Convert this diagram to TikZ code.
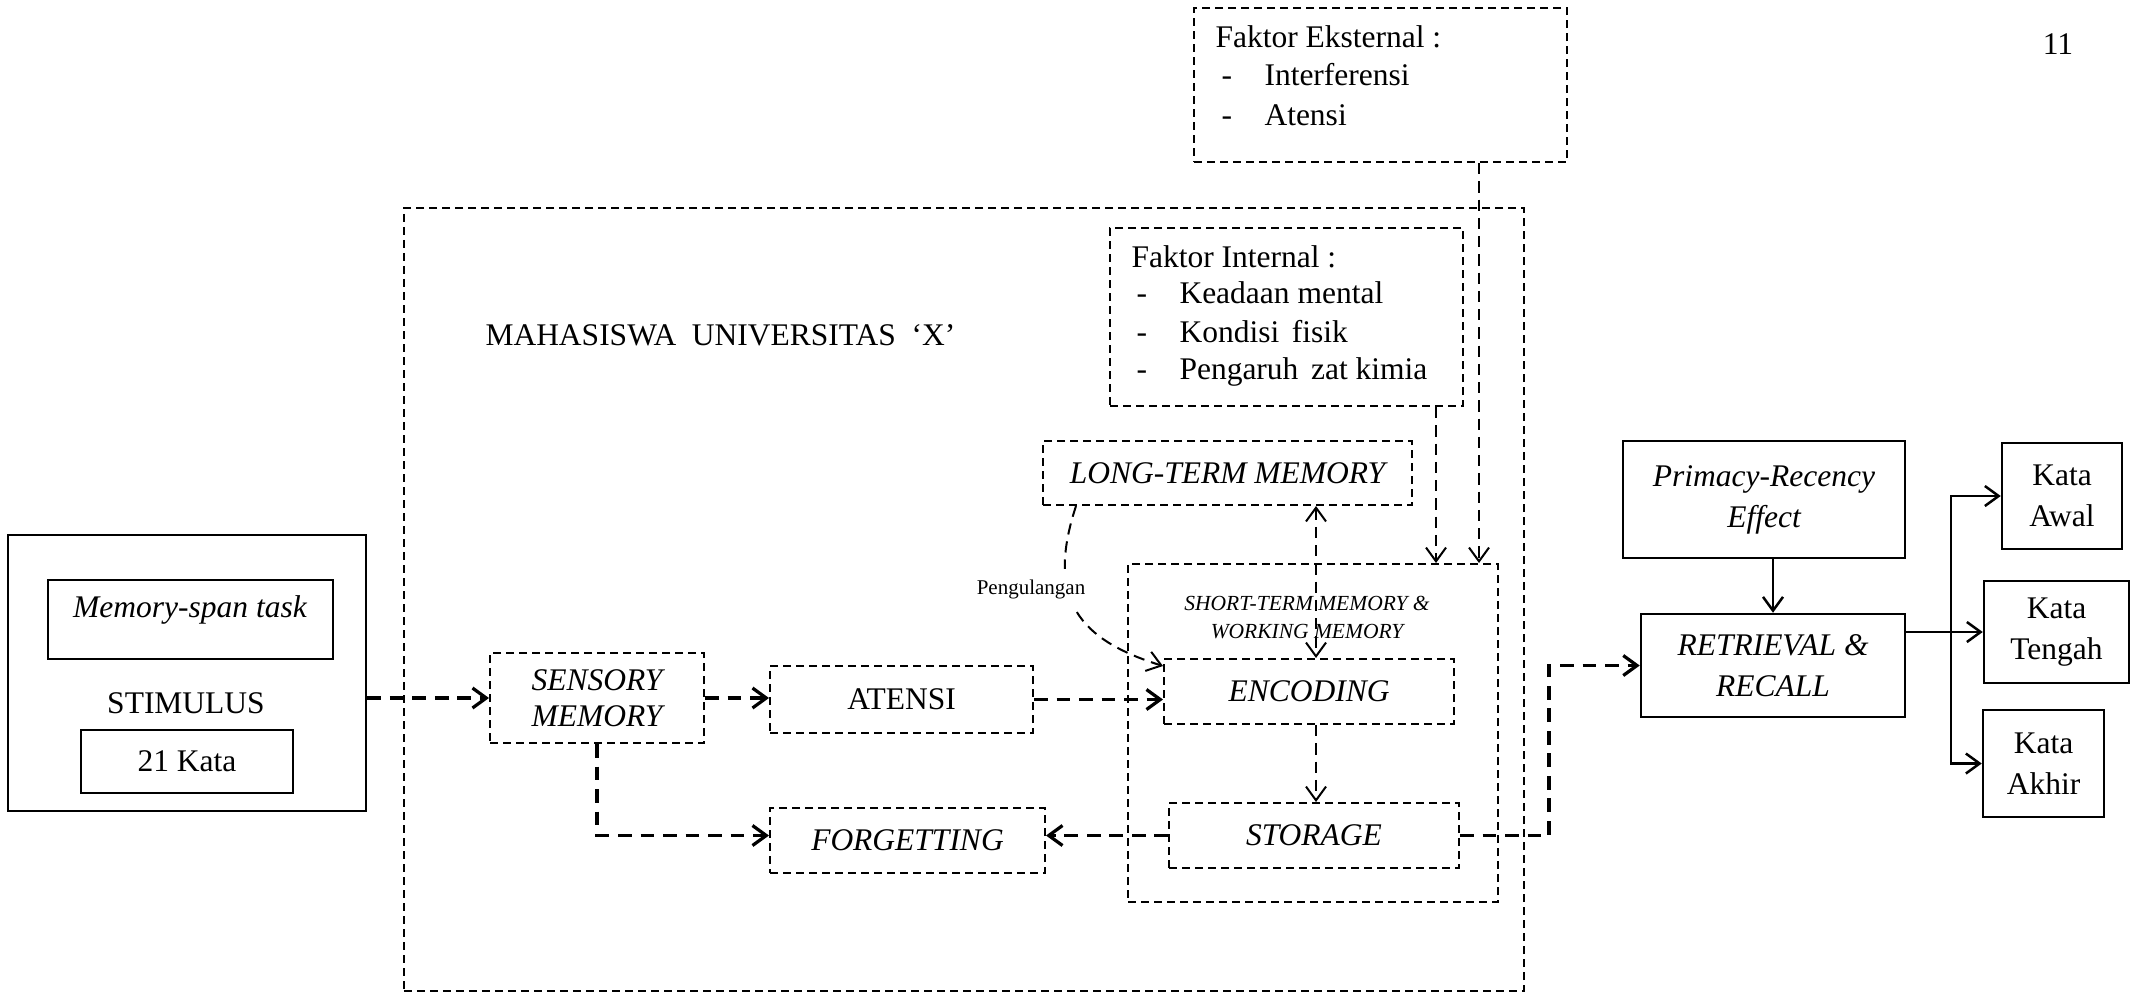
\documentclass[tikz,border=0pt]{standalone}
\usepackage{fontspec}
\setmainfont{Liberation Serif}
\usetikzlibrary{arrows.meta,calc}
\begin{document}
\begin{tikzpicture}[x=0.4pt,y=-0.4pt,
  every node/.style={font=\fontsize{12.6}{16.4}\selectfont},
  dbox/.style={draw,line width=0.8pt,dash pattern=on 3.2pt off 2pt,inner sep=0pt,align=center},
  sbox/.style={draw,line width=1pt,inner sep=0pt,align=center},
  thinflow/.style={line width=0.8pt,dash pattern=on 4.5pt off 2.8pt},
  thickflow/.style={line width=1.3pt,dash pattern=on 5.5pt off 3.5pt},
  solidflow/.style={line width=1pt},
  arrowv/.style={-{Straight Barb[length=5.5pt,width=8pt]}},
  arrowvv/.style={{Straight Barb[length=5.5pt,width=8pt]}-{Straight Barb[length=5.5pt,width=8pt]}},
  txt/.style={inner sep=0pt,anchor=west,text height=9pt,text depth=3pt,yshift=-1pt},
  itl/.style={font=\fontsize{12.6}{16.4}\selectfont\itshape}]
\useasboundingbox (0,0) rectangle (2134,995);

% page number
\node (pnum) at (2058,44) {11};

% big frame
\node[dbox,minimum width=448pt,minimum height=313.2pt] (big) at (964,599.5) {};
\node[txt] (maha) at (485,335) {MAHASISWA\hspace{0.5em}UNIVERSITAS\hspace{0.5em}‘X’};

% Faktor Eksternal
\node[dbox,minimum width=149.2pt,minimum height=61.6pt] (ext) at (1380.5,85) {};
\node[txt] (ext0) at (1215,37.5) {Faktor Eksternal :};
\node[txt] (ext1d) at (1221,75) {-};
\node[txt] (ext1) at (1264,75) {Interferensi};
\node[txt] (ext2d) at (1221,115) {-};
\node[txt] (ext2) at (1264,115) {Atensi};

% Faktor Internal
\node[dbox,minimum width=141.2pt,minimum height=71.2pt] (int) at (1286.5,317) {};
\node[txt] (int0) at (1131,257) {Faktor Internal :};
\node[txt] (int1d) at (1136,293) {-};
\node[txt] (int1) at (1179,293) {Keadaan mental};
\node[txt] (int2d) at (1136,332) {-};
\node[txt] (int2) at (1179,332) {Kondisi\hspace{0.4em}fisik};
\node[txt] (int3d) at (1136,369) {-};
\node[txt] (int3) at (1179,369) {Pengaruh\hspace{0.4em}zat kimia};

% memory boxes
\node[dbox,itl,minimum width=147.6pt,minimum height=25.6pt] (ltm) at (1227.5,473) {LONG-TERM MEMORY};
\node[dbox,minimum width=148pt,minimum height=135.2pt] (stm) at (1313,733) {};
\node[font=\fontsize{8.6}{11.2}\selectfont\itshape,align=center,inner sep=0pt] (stmt) at (1307,617) {SHORT-TERM MEMORY \&\\WORKING MEMORY};
\node[dbox,itl,minimum width=116pt,minimum height=26pt] (enc) at (1309,691.5) {ENCODING};
\node[dbox,itl,minimum width=116pt,minimum height=26pt] (sto) at (1314,835.5) {STORAGE};
\node[dbox,font=\fontsize{12.6}{14.4}\selectfont\itshape,minimum width=85.6pt,minimum height=36pt] (sens) at (597,698) {SENSORY\\MEMORY};
\node[dbox,minimum width=105.2pt,minimum height=26.8pt] (aten) at (901.5,699.5) {ATENSI};
\node[dbox,itl,minimum width=110pt,minimum height=26pt] (forg) at (907.5,840.5) {FORGETTING};

% stimulus
\node[sbox,minimum width=143.2pt,minimum height=110.4pt] (stim) at (187,673) {};
\node[sbox,minimum width=114pt,minimum height=31.6pt] (mst) at (190.5,619.5) {};
\node[itl] (mstt) at (190,610) {Memory-span task};
\node (stimt) at (186,703) {STIMULUS};
\node[sbox,minimum width=84.8pt,minimum height=25.2pt] (k21) at (187,761.5) {21 Kata};

% right side
\node[sbox,itl,minimum width=112.8pt,minimum height=46.8pt] (pri) at (1764,499.5) {Primacy-Recency\\Effect};
\node[sbox,itl,minimum width=105.6pt,minimum height=41.2pt] (ret) at (1773,665.5) {RETRIEVAL \&\\RECALL};
\node[sbox,minimum width=48pt,minimum height=42.4pt] (kawal) at (2062,496) {Kata\\Awal};
\node[sbox,minimum width=58pt,minimum height=40.8pt] (kteng) at (2056.5,632) {Kata\\Tengah};
\node[sbox,minimum width=48.4pt,minimum height=42.8pt] (kakhir) at (2043.5,763.5) {Kata\\Akhir};

% helper coordinates
\coordinate (vx) at (1316,0);
\coordinate (ix) at (1436,0);
\coordinate (ex) at (1479,0);
\coordinate (tx) at (1549,0);
\coordinate (bx) at (1951,0);

% flow connectors
\draw[thickflow,arrowv] (stim.east |- sens.west) -- (sens.west);
\draw[thickflow,arrowv] (sens.east) -- (sens.east -| aten.west);
\draw[thickflow,arrowv] (aten.east) -- (aten.east -| enc.west);
\draw[thickflow,arrowv] (sens.south) -- (sens.south |- sto.west) -- (forg.west |- sto.west);
\draw[thickflow,arrowv] (sto.west) -- (sto.west -| forg.east);
\draw[thickflow,arrowv] (sto.east) -- (sto.east -| tx) -- (tx |- ret.west) -- (ret.west);
\draw[thinflow,arrowv] (vx |- enc.south) -- (vx |- sto.north);
\draw[thinflow,arrowvv] (vx |- ltm.south) -- (vx |- enc.north);
\draw[thinflow,arrowv] (ix |- int.south) -- (ix |- stm.north);
\draw[thinflow,arrowv] (ex |- ext.south) -- (ex |- stm.north);
\draw[thinflow,arrowv] ([xshift=13.6pt]ltm.south west) .. controls (1045,600) and (1080,640) .. ([yshift=10.2pt]enc.west);
\node[fill=white,inner xsep=2pt,inner ysep=4pt,font=\fontsize{8.4}{10}\selectfont] (peng) at (1031,589) {Pengulangan};

% solid connectors
\draw[solidflow,arrowv] (ret.north |- pri.south) -- (ret.north);
\draw[solidflow,arrowv] (ret.east |- kteng.west) -- (kteng.west);
\draw[solidflow,arrowv] (bx |- kteng.west) |- (kawal.west);
\draw[solidflow,arrowv] (bx |- kteng.west) |- (kakhir.west);
\end{tikzpicture}
\end{document}
